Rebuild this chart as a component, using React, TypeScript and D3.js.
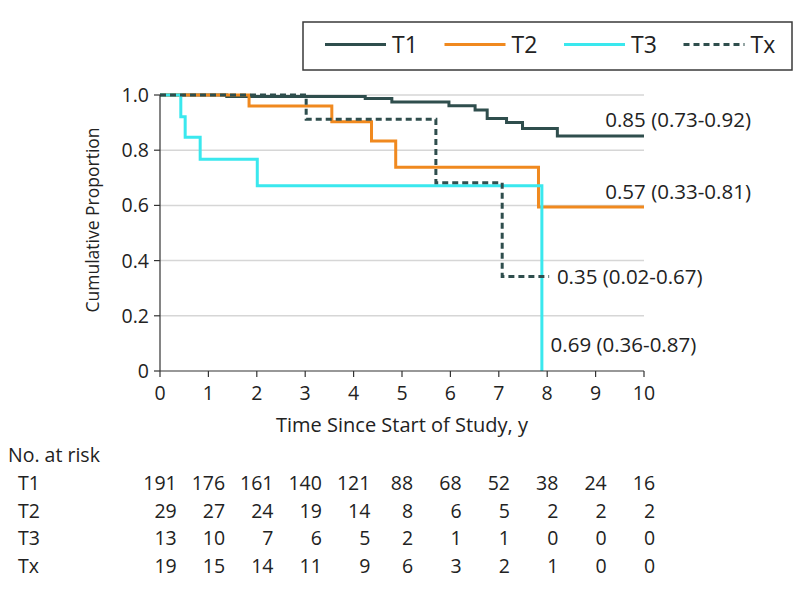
import * as React from "react";
import { scaleLinear, line, curveStepAfter } from "d3";

// Kaplan-Meier steps
const t1Times = [0, 1.38, 4.24, 4.79, 5.97, 6.51, 6.76, 7.16, 7.49, 8.21, 10];
const t1Surv = [1, 0.995, 0.987, 0.975, 0.961, 0.946, 0.915, 0.9, 0.879, 0.851, 0.851];

const t2Times = [0, 1.84, 3.55, 4.37, 4.87, 7.82, 10];
const t2Surv = [1, 0.96, 0.903, 0.833, 0.738, 0.594, 0.594];

const t3Times = [0, 0.43, 0.52, 0.83, 2.01, 7.89];
const t3Surv = [1, 0.921, 0.847, 0.767, 0.671, 0];

const txTimes = [0, 3.02, 5.7, 7.07, 8.04];
const txSurv = [1, 0.912, 0.682, 0.342, 0.342];

const groups = ["T1", "T2", "T3", "Tx"];
const colors = ["#2f4e4d", "#f0891f", "#3ae8ee", "#2f4e4d"];
const dashes = [null, null, null, "6,4"];

const xTicks = [0, 1, 2, 3, 4, 5, 6, 7, 8, 9, 10];
const yTicks = [0, 0.2, 0.4, 0.6, 0.8, 1.0];

// end-of-curve annotations: text, anchor year, anchor proportion (text middle)
const noteText = ["0.85 (0.73-0.92)", "0.57 (0.33-0.81)", "0.69 (0.36-0.87)", "0.35 (0.02-0.67)"];
const noteX = [9.2, 9.2, 8.07, 8.2];
const noteY = [0.909, 0.65, 0.094, 0.342];

const riskT1 = [191, 176, 161, 140, 121, 88, 68, 52, 38, 24, 16];
const riskT2 = [29, 27, 24, 19, 14, 8, 6, 5, 2, 2, 2];
const riskT3 = [13, 10, 7, 6, 5, 2, 1, 1, 0, 0, 0];
const riskTx = [19, 15, 14, 11, 9, 6, 3, 2, 1, 0, 0];

const font = "'Open Sans', 'Noto Sans', sans-serif";
const ink = "#222";

const App: React.FC = () => {
  const width = 794, height = 598;
  const margin = { left: 160, right: 150, top: 95, bottom: 227 };
  const fs = 19.5;

  const x = scaleLinear().domain([0, 10]).range([margin.left, width - margin.right]);
  const y = scaleLinear().domain([0, 1]).range([height - margin.bottom, margin.top]);

  const series = [
    [t1Times, t1Surv],
    [t2Times, t2Surv],
    [t3Times, t3Surv],
    [txTimes, txSurv],
  ];

  const km = line<[number, number]>()
    .x(d => x(d[0]))
    .y(d => y(d[1]))
    .curve(curveStepAfter);

  const risks = [riskT1, riskT2, riskT3, riskTx];
  const digitW = fs * 0.572;
  const colRight = xTicks.map((t, i) => {
    const maxLen = Math.max(...risks.map(r => String(r[i]).length));
    return x(t) + (maxLen * digitW) / 2;
  });

  return (
    <svg width={width} height={height} style={{ position: "absolute", left: 0, top: 0 }} fontFamily={font}>
      <rect width={width} height={height} fill="#fff" />

      {/* legend */}
      <rect x={303} y={22} width={489} height={48} fill="#fff" stroke="#3a3a3a" strokeWidth={1.5} />
      {groups.map((g, i) => {
        const lx = 325 + i * 119.5;
        return (
          <g key={g}>
            <line x1={lx} x2={lx + 61} y1={44.5} y2={44.5} stroke={colors[i]} strokeWidth={3}
              strokeDasharray={dashes[i] ?? undefined} />
            <text x={lx + 67} y={53} fontSize={23} fill={ink}>{g}</text>
          </g>
        );
      })}

      {/* grid */}
      {yTicks.filter(t => t > 0).map(t => (
        <line key={t} x1={x(0)} x2={x(10)} y1={y(t)} y2={y(t)} stroke="#d6d6d6" strokeWidth={1.5} />
      ))}

      {/* curves */}
      {series.map(([ts, ss], i) => (
        <path key={groups[i]} d={km(ts.map((t, j) => [t, ss[j]] as [number, number])) ?? ""}
          fill="none" stroke={colors[i]} strokeWidth={3} strokeDasharray={dashes[i] ?? undefined} />
      ))}

      {/* axes */}
      <line x1={x(0)} x2={x(0)} y1={y(0)} y2={y(1)} stroke="#333" strokeWidth={1.2} />
      <line x1={x(0)} x2={x(10)} y1={y(0)} y2={y(0)} stroke="#333" strokeWidth={1.2} />
      {yTicks.map(t => (
        <g key={t}>
          <line x1={x(0) - 6} x2={x(0)} y1={y(t)} y2={y(t)} stroke="#333" strokeWidth={1.2} />
          <text x={x(0) - 11} y={y(t) + 7} textAnchor="end" fontSize={fs} fill={ink}>
            {t === 0 ? "0" : t.toFixed(1)}
          </text>
        </g>
      ))}
      {xTicks.map(t => (
        <g key={t}>
          <line x1={x(t)} x2={x(t)} y1={y(0)} y2={y(0) + 6} stroke="#333" strokeWidth={1.2} />
          <text x={x(t)} y={y(0) + 29} textAnchor="middle" fontSize={fs} fill={ink}>{t}</text>
        </g>
      ))}
      <text x={(x(0) + x(10)) / 2} y={431.5} textAnchor="middle" fontSize={20} fill={ink}>
        Time Since Start of Study, y
      </text>
      <text transform="translate(99,220) rotate(-90)" textAnchor="middle" fontSize={17.5} fill={ink}>
        Cumulative Proportion
      </text>

      {/* annotations */}
      {noteText.map((s, i) => (
        <text key={s} x={x(noteX[i])} y={y(noteY[i]) + 7} fontSize={20.5} fill={ink}>{s}</text>
      ))}

      {/* number at risk */}
      <text x={8} y={462} fontSize={fs} fill={ink}>No. at risk</text>
      {risks.map((r, i) => (
        <g key={groups[i]}>
          <text x={18} y={490 + i * 27.5} fontSize={fs} fill={ink}>{groups[i]}</text>
          {r.map((v, j) => (
            <text key={j} x={colRight[j]} y={490 + i * 27.5} textAnchor="end" fontSize={fs} fill={ink}>{v}</text>
          ))}
        </g>
      ))}
    </svg>
  );
};

export default App;
